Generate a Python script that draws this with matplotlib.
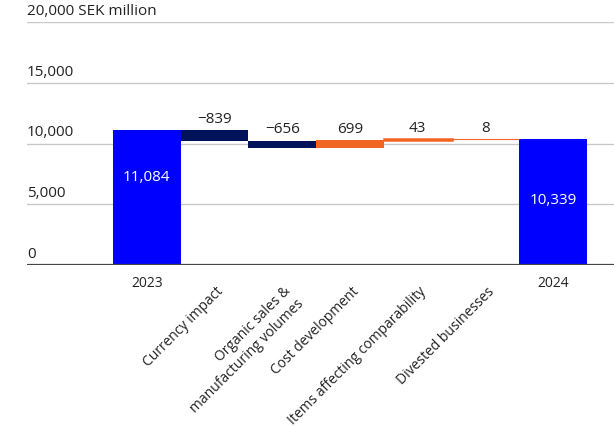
import matplotlib
matplotlib.use("Agg")
import matplotlib.pyplot as plt

categories = ["2023", "Currency impact", "Organic sales &\nmanufacturing volumes",
              "Cost development", "Items affecting comparability", "Divested businesses", "2024"]
start_value = 11084
changes = [-839, -656, 699, 43, 8]
end_value = 10339
yticks = [0, 5000, 10000, 15000, 20000]
ytick_labels = ["0", "5,000", "10,000", "15,000", "20,000 SEK million"]

BLUE = "#0000FF"
NAVY = "#00125A"
ORANGE = "#F26522"
TXT = "#222222"

plt.rcParams['font.family'] = ['Open Sans', 'DejaVu Sans']

fig = plt.figure(figsize=(6.14, 4.27), dpi=100)
ax = fig.add_axes([27/614, 1-266/427, 1-27/614, 243/427])

# totals
ax.bar(0, start_value, width=1.0, color=BLUE, zorder=3)
ax.bar(6, end_value, width=1.0, color=BLUE, zorder=3)

level = start_value
for i, c in enumerate(changes, start=1):
    bottom = level if c > 0 else level + c
    col = ORANGE if c > 0 else NAVY
    if abs(c) < 20:
        lw = 0.8
    elif abs(c) < 100:
        lw = 1.8
    else:
        lw = 0
    ax.bar(i, abs(c), bottom=bottom, width=1.0, color=col, zorder=3,
           edgecolor=col, linewidth=lw)
    top = max(level, level + c)
    lab = f"{c:,}".replace("-", "\u2212")
    ax.annotate(lab, (i, top), xytext=(0, 3), textcoords="offset points",
                ha="center", va="bottom", fontsize=11, color=TXT)
    level += c

ax.text(0, start_value * 0.66, f"{start_value:,}", ha="center", va="center",
        color="white", fontsize=11, zorder=4)
ax.text(6, end_value * 0.525, f"{end_value:,}", ha="center", va="center",
        color="white", fontsize=11, zorder=4)

ax.set_xlim(-1.77, 6.9)
ax.set_ylim(0, 20000)

for v, lab in zip(yticks, ytick_labels):
    if v == 0:
        ax.axhline(0, color="#444444", lw=1.6, zorder=4)
    else:
        ax.axhline(v, color="#c8c8c8", lw=1.0, zorder=1)
    ax.annotate(lab, (0, v), xycoords=("axes fraction", "data"), xytext=(0, 3),
                textcoords="offset points", ha="left", va="bottom", fontsize=11, color=TXT)

for s in ax.spines.values():
    s.set_visible(False)
ax.set_yticks([])
ax.set_xticks([])

for i, lab in enumerate(categories):
    if i in (0, 6):
        ax.annotate(lab, (i, 0), xytext=(0, -7), textcoords="offset points",
                    ha="center", va="top", fontsize=10, color=TXT)
    else:
        ax.annotate(lab, (i, 0), xytext=(1, -13), textcoords="offset points",
                    ha="right", va="top", rotation=45, rotation_mode="anchor",
                    fontsize=10, color=TXT)

fig.savefig("out.png", dpi=100)
